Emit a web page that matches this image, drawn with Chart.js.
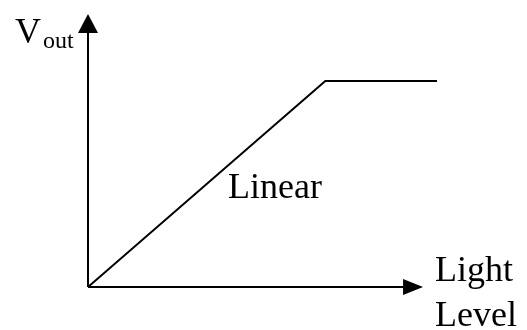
<!DOCTYPE html>
<html>
<head>
<meta charset="utf-8">
<script src="https://cdn.jsdelivr.net/npm/chart.js@4"></script>
<style>
  html, body { margin: 0; padding: 0; background: #fff; }
  #wrap { width: 527px; height: 330px; }
</style>
</head>
<body>
<div id="wrap"><canvas id="respChart"></canvas></div>
<script>
// response curve: linear rise then saturation (arbitrary units 0-100)
const lightLevel = [0, 68, 100];
const vout = [0, 75.5, 75.5];
const axisEnd = { x: 96, y: 100 };

const axesAndLabels = {
    id: 'axesAndLabels',
    afterDraw(chart) {
        const { ctx, scales: { x, y } } = chart;
        const x0 = x.getPixelForValue(0), y0 = y.getPixelForValue(0);
        const xt = x.getPixelForValue(axisEnd.x), yt = y.getPixelForValue(axisEnd.y);
        ctx.save();
        ctx.strokeStyle = '#000';
        ctx.fillStyle = '#000';
        ctx.lineWidth = 2;
        // axes
        ctx.beginPath();
        ctx.moveTo(x0, y0); ctx.lineTo(xt - 18, y0);
        ctx.moveTo(x0, y0); ctx.lineTo(x0, yt + 18);
        ctx.stroke();
        // arrow heads
        ctx.beginPath();
        ctx.moveTo(xt, y0); ctx.lineTo(xt - 20, y0 - 8); ctx.lineTo(xt - 20, y0 + 8);
        ctx.closePath(); ctx.fill();
        ctx.beginPath();
        ctx.moveTo(x0, yt); ctx.lineTo(x0 - 10, yt + 19); ctx.lineTo(x0 + 10, yt + 19);
        ctx.closePath(); ctx.fill();

        ctx.textBaseline = 'alphabetic';
        ctx.textAlign = 'left';
        ctx.font = '36px "Liberation Serif", "Times New Roman", serif';
        ctx.fillText('V', 15, 43);
        ctx.fillText('Linear', 228, 198);
        ctx.fillText('Light', 435, 281);
        ctx.fillText('Level', 435, 326);
        ctx.font = '24px "Liberation Serif", "Times New Roman", serif';
        ctx.fillText('out', 43, 48);
        ctx.restore();
    }
};

new Chart(document.getElementById('respChart'), {
    type: 'line',
    data: {
        datasets: [{
            data: lightLevel.map((v, i) => ({ x: v, y: vout[i] })),
            borderColor: '#000',
            borderWidth: 2,
            pointRadius: 0,
            tension: 0,
            fill: false
        }]
    },
    options: {
        responsive: true,
        maintainAspectRatio: false,
        animation: false,
        layout: { padding: { left: 88, right: 90, top: 14, bottom: 43 } },
        plugins: { legend: { display: false }, tooltip: { enabled: false } },
        scales: {
            x: { type: 'linear', min: 0, max: 100, display: false },
            y: { type: 'linear', min: 0, max: 100, display: false }
        }
    },
    plugins: [axesAndLabels]
});
</script>
</body>
</html>
